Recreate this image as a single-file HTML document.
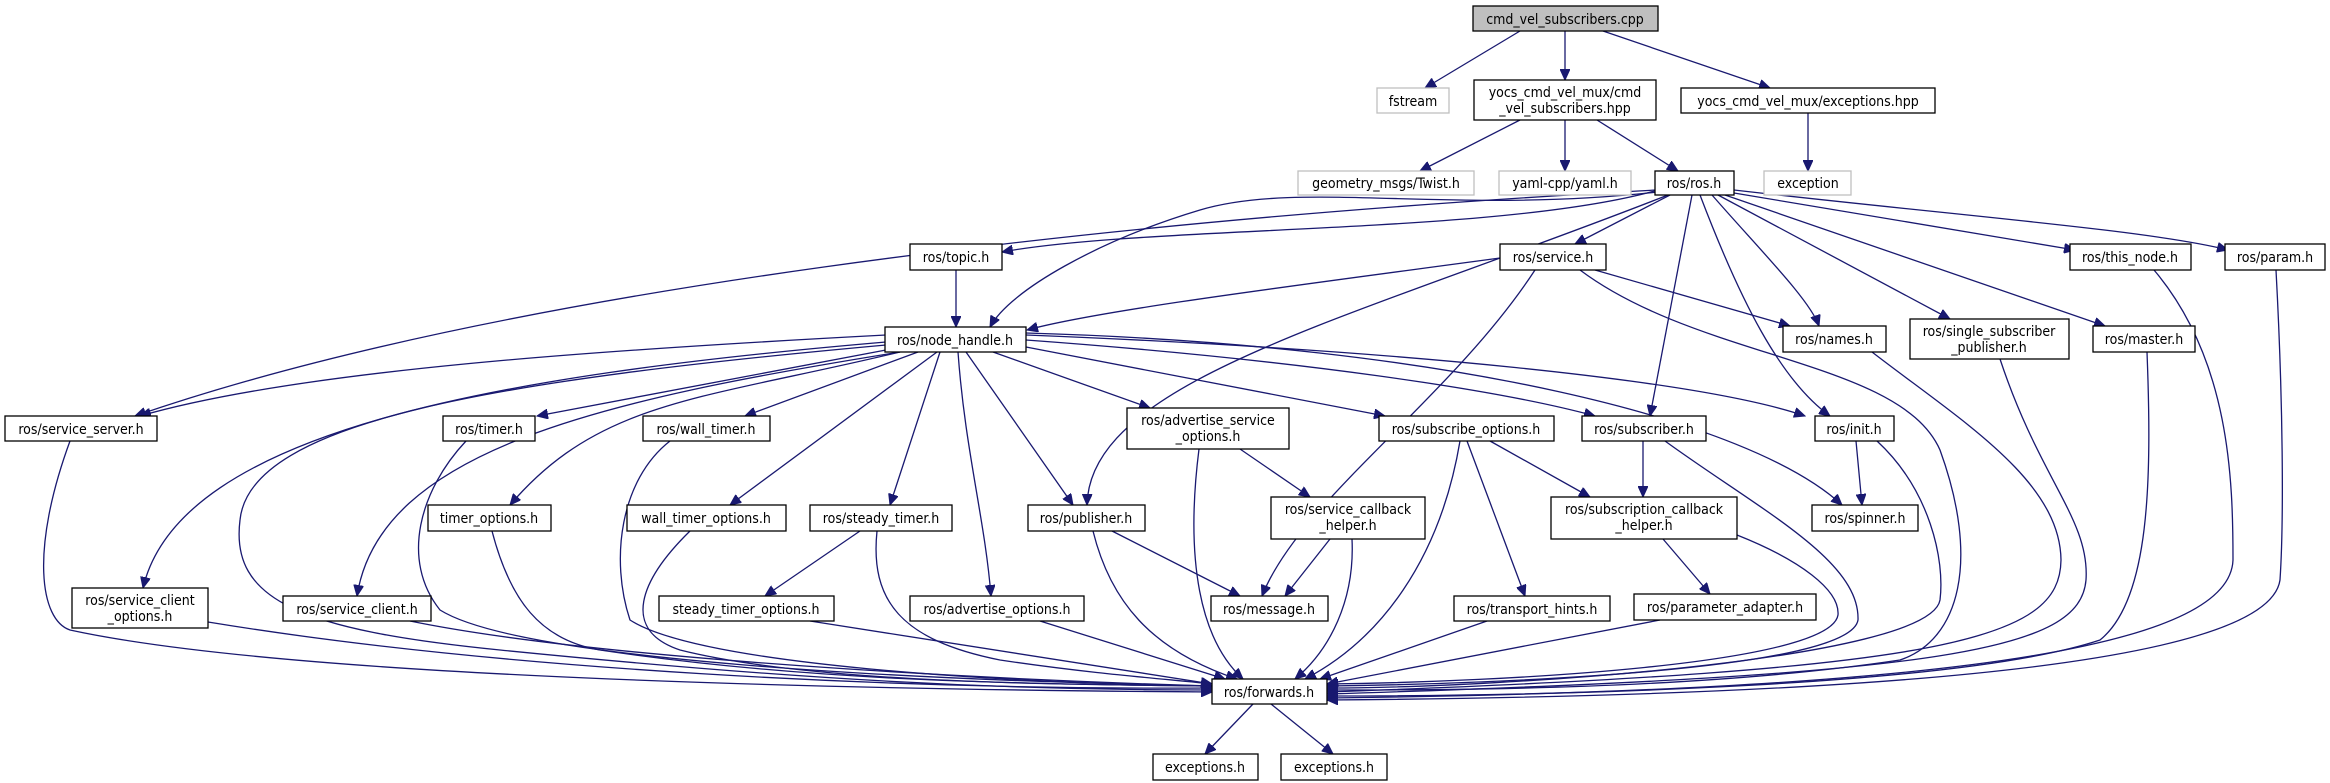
<!DOCTYPE html>
<html><head><meta charset="utf-8"><style>
html,body{margin:0;padding:0;background:#fff;}
svg{display:block;}
text{font-family:"DejaVu Sans Condensed","DejaVu Sans","Liberation Sans",sans-serif;font-size:14px;fill:#000;text-anchor:middle;}
.n{fill:#fff;stroke:#000;stroke-width:1.3;}
.g{fill:#fff;stroke:#bfbfbf;stroke-width:1.3;}
.e{fill:none;stroke:#191970;stroke-width:1.3;}
</style></head><body>
<svg width="2330" height="783" viewBox="0 0 2330 783" xmlns="http://www.w3.org/2000/svg">
<defs>
<marker id="a" markerUnits="userSpaceOnUse" markerWidth="12" markerHeight="10" refX="11" refY="5" orient="auto">
<path d="M0,0 L11,5 L0,10 z" fill="#191970" stroke="#191970"/>
</marker>
</defs>
<g class="e" marker-end="url(#a)">
<path d="M1520,31 L1425,88"/>
<path d="M1565,31 L1565,80"/>
<path d="M1603,31 L1770,88"/>
<path d="M1808,113 L1808,171"/>
<path d="M1520,120 L1420,171"/>
<path d="M1565,120 L1565,171"/>
<path d="M1597,120 L1678,171"/>
<path d="M1658,190 C1500,235 1150,225 1002,252"/>
<path d="M1658,192 C1450,215 1300,180 1200,210 C1100,240 1010,290 990,327"/>
<path d="M1656,190 C1100,220 500,290 135,416"/>
<path d="M1670,195 L1575,244"/>
<path d="M1668,195 C1350,320 1090,380 1087,505"/>
<path d="M1712,195 C1760,250 1810,300 1819,326"/>
<path d="M1718,195 L1950,319"/>
<path d="M1725,195 L2105,326"/>
<path d="M1734,193 L2075,250"/>
<path d="M1734,190 C1950,215 2150,230 2228,250"/>
<path d="M1692,195 L1650,416"/>
<path d="M1700,195 C1740,300 1780,380 1830,416"/>
<path d="M1500,258 C1300,285 1100,310 1027,330"/>
<path d="M1595,270 L1790,326"/>
<path d="M1535,270 C1450,400 1300,500 1262,596"/>
<path d="M1580,270 C1700,360 1900,360 1940,450 C1980,560 1960,640 1900,660 C1700,690 1450,690 1327,690"/>
<path d="M956,270 L956,327"/>
<path d="M886,335 C600,350 300,370 140,416"/>
<path d="M886,342 C500,375 180,430 143,588"/>
<path d="M900,352 C600,400 380,450 357,596"/>
<path d="M886,350 L537,416"/>
<path d="M900,352 C700,400 600,400 510,505"/>
<path d="M918,352 L745,416"/>
<path d="M937,352 L730,505"/>
<path d="M940,352 L890,505"/>
<path d="M958,352 C965,450 985,520 991,596"/>
<path d="M966,352 L1073,505"/>
<path d="M993,352 L1150,408"/>
<path d="M1026,347 L1385,416"/>
<path d="M1026,340 C1300,360 1500,390 1595,416"/>
<path d="M1026,335 C1400,350 1700,380 1805,416"/>
<path d="M1026,333 C1450,345 1750,420 1842,505"/>
<path d="M70,441 C30,550 40,620 70,630 C300,680 900,690 1212,692"/>
<path d="M886,345 C500,380 250,420 240,520 C230,600 300,630 500,650 C800,680 1000,690 1212,690"/>
<path d="M208,622 C500,670 900,690 1212,688"/>
<path d="M410,621 C600,660 1000,680 1212,686"/>
<path d="M466,441 C420,490 400,560 440,610 C520,660 900,680 1212,686"/>
<path d="M492,531 C510,600 540,640 600,650 C800,680 1000,684 1212,686"/>
<path d="M670,441 C620,480 610,560 630,620 C700,665 1000,683 1212,686"/>
<path d="M690,531 C640,580 620,630 680,650 C800,680 1000,684 1212,686"/>
<path d="M877,531 C870,600 900,640 1000,660 C1100,675 1180,680 1212,684"/>
<path d="M810,621 L1212,684"/>
<path d="M1040,621 L1225,679"/>
<path d="M1093,531 C1110,600 1150,650 1237,679"/>
<path d="M1199,449 C1185,560 1200,640 1243,679"/>
<path d="M1112,531 L1240,596"/>
<path d="M860,531 L765,596"/>
<path d="M1240,449 L1310,497"/>
<path d="M1330,539 L1285,596"/>
<path d="M1352,539 C1355,600 1330,650 1295,679"/>
<path d="M1490,441 L1590,497"/>
<path d="M1467,441 L1525,596"/>
<path d="M1460,441 C1440,560 1380,640 1305,679"/>
<path d="M1643,441 L1643,497"/>
<path d="M1665,441 C1760,510 1860,560 1858,620 C1850,670 1500,684 1327,686"/>
<path d="M1737,535 C1800,560 1840,590 1838,615 C1830,665 1500,682 1327,684"/>
<path d="M1663,539 L1710,594"/>
<path d="M1487,621 L1320,679"/>
<path d="M1660,620 L1327,684"/>
<path d="M1856,441 L1862,505"/>
<path d="M1877,441 C1930,490 1945,560 1940,600 C1930,660 1500,688 1327,688"/>
<path d="M1872,352 C1960,420 2060,480 2061,560 C2060,640 1950,670 1327,692"/>
<path d="M2000,359 C2040,480 2090,520 2086,580 C2080,650 1950,675 1327,694"/>
<path d="M2147,352 C2152,480 2150,600 2100,640 C1950,690 1500,696 1327,696"/>
<path d="M2154,270 C2230,360 2233,480 2233,560 C2230,640 2000,690 1327,698"/>
<path d="M2276,270 C2283,400 2284,520 2280,580 C2270,650 2000,695 1327,700"/>
<path d="M1253,704 L1205,754"/>
<path d="M1271,704 L1333,754"/>
</g>

<rect x="1473" y="6" width="185" height="25" fill="#bfbfbf" stroke="#000" stroke-width="1.3"/><text x="1565" y="24">cmd_vel_subscribers.cpp</text>
<rect class="g" x="1377" y="88" width="72" height="25"/><text x="1413" y="106">fstream</text>
<rect class="n" x="1474" y="80" width="182" height="40"/><text x="1565" y="97">yocs_cmd_vel_mux/cmd</text><text x="1565" y="113">_vel_subscribers.hpp</text>
<rect class="n" x="1681" y="88" width="254" height="25"/><text x="1808" y="106">yocs_cmd_vel_mux/exceptions.hpp</text>
<rect class="g" x="1298" y="171" width="176" height="24"/><text x="1386" y="188">geometry_msgs/Twist.h</text>
<rect class="g" x="1499" y="171" width="132" height="24"/><text x="1565" y="188">yaml-cpp/yaml.h</text>
<rect class="n" x="1655" y="171" width="79" height="24"/><text x="1694" y="188">ros/ros.h</text>
<rect class="g" x="1764" y="171" width="87" height="24"/><text x="1808" y="188">exception</text>
<rect class="n" x="910" y="244" width="92" height="26"/><text x="956" y="262">ros/topic.h</text>
<rect class="n" x="1500" y="244" width="106" height="26"/><text x="1553" y="262">ros/service.h</text>
<rect class="n" x="2070" y="244" width="121" height="26"/><text x="2130" y="262">ros/this_node.h</text>
<rect class="n" x="2225" y="244" width="100" height="26"/><text x="2275" y="262">ros/param.h</text>
<rect class="n" x="885" y="327" width="141" height="25"/><text x="955" y="345">ros/node_handle.h</text>
<rect class="n" x="1783" y="326" width="103" height="26"/><text x="1834" y="344">ros/names.h</text>
<rect class="n" x="1910" y="319" width="159" height="40"/><text x="1989" y="336">ros/single_subscriber</text><text x="1989" y="352">_publisher.h</text>
<rect class="n" x="2093" y="326" width="102" height="26"/><text x="2144" y="344">ros/master.h</text>
<rect class="n" x="5" y="416" width="152" height="25"/><text x="81" y="434">ros/service_server.h</text>
<rect class="n" x="443" y="416" width="92" height="25"/><text x="489" y="434">ros/timer.h</text>
<rect class="n" x="643" y="416" width="127" height="25"/><text x="706" y="434">ros/wall_timer.h</text>
<rect class="n" x="1127" y="408" width="162" height="41"/><text x="1208" y="425">ros/advertise_service</text><text x="1208" y="441">_options.h</text>
<rect class="n" x="1379" y="416" width="175" height="25"/><text x="1466" y="434">ros/subscribe_options.h</text>
<rect class="n" x="1582" y="416" width="124" height="25"/><text x="1644" y="434">ros/subscriber.h</text>
<rect class="n" x="1815" y="416" width="79" height="25"/><text x="1854" y="434">ros/init.h</text>
<rect class="n" x="428" y="505" width="123" height="26"/><text x="489" y="523">timer_options.h</text>
<rect class="n" x="627" y="505" width="159" height="26"/><text x="706" y="523">wall_timer_options.h</text>
<rect class="n" x="810" y="505" width="142" height="26"/><text x="881" y="523">ros/steady_timer.h</text>
<rect class="n" x="1028" y="505" width="117" height="26"/><text x="1086" y="523">ros/publisher.h</text>
<rect class="n" x="1271" y="497" width="154" height="42"/><text x="1348" y="514">ros/service_callback</text><text x="1348" y="530">_helper.h</text>
<rect class="n" x="1551" y="497" width="186" height="42"/><text x="1644" y="514">ros/subscription_callback</text><text x="1644" y="530">_helper.h</text>
<rect class="n" x="1812" y="505" width="106" height="26"/><text x="1865" y="523">ros/spinner.h</text>
<rect class="n" x="72" y="588" width="136" height="40"/><text x="140" y="605">ros/service_client</text><text x="140" y="621">_options.h</text>
<rect class="n" x="283" y="596" width="148" height="25"/><text x="357" y="614">ros/service_client.h</text>
<rect class="n" x="659" y="596" width="175" height="25"/><text x="746" y="614">steady_timer_options.h</text>
<rect class="n" x="910" y="596" width="174" height="25"/><text x="997" y="614">ros/advertise_options.h</text>
<rect class="n" x="1211" y="596" width="117" height="25"/><text x="1269" y="614">ros/message.h</text>
<rect class="n" x="1454" y="596" width="156" height="25"/><text x="1532" y="614">ros/transport_hints.h</text>
<rect class="n" x="1634" y="594" width="182" height="26"/><text x="1725" y="612">ros/parameter_adapter.h</text>
<rect class="n" x="1212" y="679" width="115" height="25"/><text x="1269" y="697">ros/forwards.h</text>
<rect class="n" x="1153" y="754" width="105" height="26"/><text x="1205" y="772">exceptions.h</text>
<rect class="n" x="1281" y="754" width="106" height="26"/><text x="1334" y="772">exceptions.h</text>
</svg>
</body></html>
